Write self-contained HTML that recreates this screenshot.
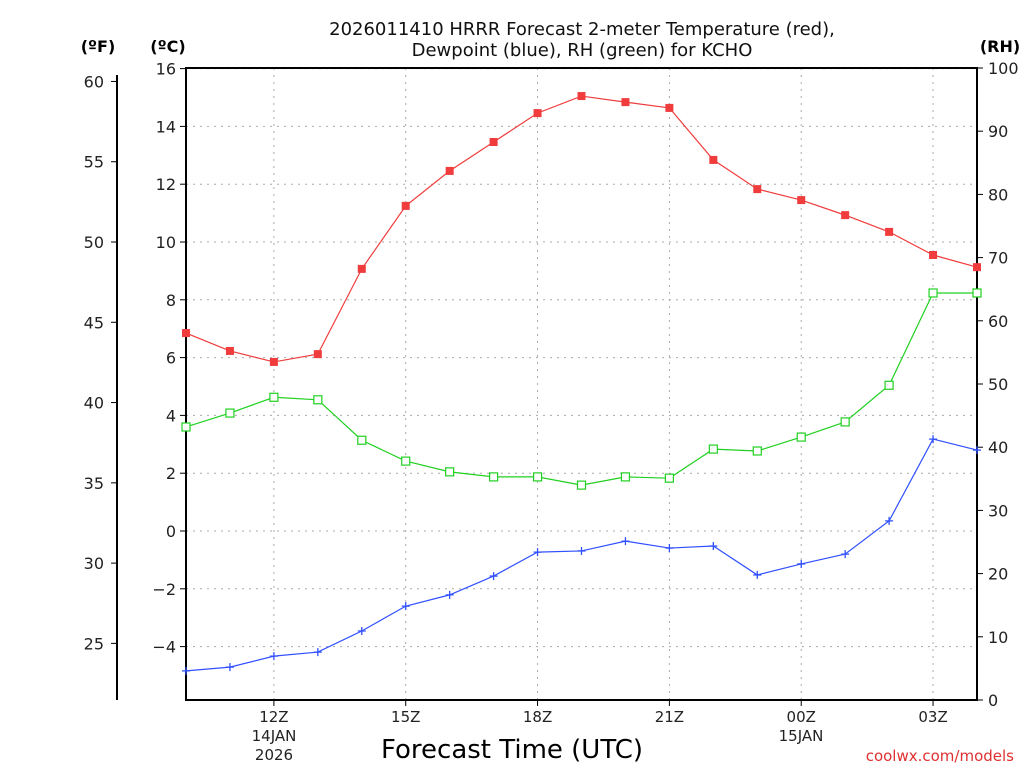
<!DOCTYPE html>
<html><head><meta charset="utf-8"><style>
body{margin:0;background:#fff;}
svg text{font-family:"DejaVu Sans","Liberation Sans",sans-serif;}
</style></head><body>
<svg id="chart" width="1024" height="768" xmlns="http://www.w3.org/2000/svg"></svg>
<script>
const hours = [10,11,12,13,14,15,16,17,18,19,20,21,22,23,24,25,26,27,28];
const tempC = [6.85,6.23,5.85,6.12,9.07,11.25,12.46,13.46,14.46,15.05,14.84,14.64,12.84,11.83,11.45,10.93,10.35,9.55,9.13];
const dewC = [-4.84,-4.71,-4.33,-4.19,-3.46,-2.60,-2.21,-1.56,-0.73,-0.69,-0.35,-0.59,-0.52,-1.52,-1.14,-0.80,0.35,3.18,2.80];
const rh = [43.2,45.4,47.9,47.5,41.1,37.8,36.1,35.3,35.3,34.0,35.3,35.1,39.7,39.4,41.6,44.0,49.8,64.4,64.4];
const cTicks = [16,14,12,10,8,6,4,2,0,-2,-4];
const fTicks = [60,55,50,45,40,35,30,25];
const rhTicks = [0,10,20,30,40,50,60,70,80,90,100];
const xTickHours = [12,15,18,21,24,27];
const xTickLabels = ["12Z","15Z","18Z","21Z","00Z","03Z"];

const L=186,R=977,T=68,B=700;
const xS=h=>L+(h-10)*(R-L)/18;
const yC=c=>531-c*28.9;
const yF=f=>yC((f-32)/1.8);
const yRH=v=>B-v*(B-T)/100;
const svg=document.getElementById('chart');
const NS='http://www.w3.org/2000/svg';
function mk(tag,attrs,parent){const e=document.createElementNS(NS,tag);for(const k in attrs)e.setAttribute(k,attrs[k]);(parent||svg).appendChild(e);return e;}
function txt(x,y,s,attrs){const e=mk('text',Object.assign({x:x,y:y},attrs));e.textContent=s;return e;}

// grid
cTicks.forEach(c=>{const l=mk('line',{x1:L,x2:R,y1:yC(c),y2:yC(c),stroke:'#aaa','stroke-dasharray':'2,5'});

});
xTickHours.forEach(h=>{const l=mk('line',{x1:xS(h),x2:xS(h),y1:T,y2:B,stroke:'#aaa','stroke-dasharray':'2,5'});

});

// frame
const fr=mk('rect',{x:L,y:T,width:R-L,height:B-T,fill:'none',stroke:'#000','stroke-width':2});



// C axis labels
cTicks.forEach(c=>{mk('line',{x1:L-6,x2:L,y1:yC(c),y2:yC(c),stroke:'#000'});
const t=txt(L-10,yC(c)+6,c<0?'−'+(-c):String(c),{'text-anchor':'end','font-size':16,fill:'#222'});

});
// F axis
const fa=mk('line',{x1:117,x2:117,y1:75,y2:B,stroke:'#000','stroke-width':2});


fTicks.forEach(f=>{mk('line',{x1:111,x2:117,y1:yF(f),y2:yF(f),stroke:'#000'});
const t=txt(104,yF(f)+6,String(f),{'text-anchor':'end','font-size':16,fill:'#222'});

});
// RH axis
rhTicks.forEach(v=>{mk('line',{x1:R,x2:R+6,y1:yRH(v),y2:yRH(v),stroke:'#000'});
const t=txt(988,yRH(v)+6,String(v),{'font-size':16,fill:'#222'});

});
// x ticks
xTickHours.forEach((h,i)=>{mk('line',{x1:xS(h),x2:xS(h),y1:B,y2:B+6,stroke:'#000'});
const t=txt(xS(h),722,xTickLabels[i],{'text-anchor':'middle','font-size':15,fill:'#222'});

});

// series
function series(vals,yf,color,marker,name){
 const pts=vals.map((v,i)=>xS(hours[i])+','+yf(v)).join(' ');
 const pl=mk('polyline',{points:pts,fill:'none',stroke:color,'stroke-width':1.2});
 
 
 vals.forEach((v,i)=>{const x=xS(hours[i]),y=yf(v);let m;
  if(marker==='fill')m=mk('rect',{x:x-4,y:y-4,width:8,height:8,fill:color});
  else if(marker==='open')m=mk('rect',{x:x-4,y:y-4,width:8,height:8,fill:'#fff',stroke:color,'stroke-width':1.2});
  else m=mk('path',{d:`M${x-4},${y}H${x+4}M${x},${y-4}V${y+4}`,stroke:color,'stroke-width':1.3});
  
  });
}
series(tempC,yC,'#f03c3c','fill','temperature');
series(rh,yRH,'#20d020','open','rh');
series(dewC,yC,'#3050ff','plus','dewpoint');

// text
const t1=txt(582,35,'2026011410 HRRR Forecast 2-meter Temperature (red),',{'text-anchor':'middle','font-size':18,fill:'#111'});

const t2=txt(582,56,'Dewpoint (blue), RH (green) for KCHO',{'text-anchor':'middle','font-size':18,fill:'#111'});

[[98,'(ºF)'],[168,'(ºC)'],[1000,'(RH)']].forEach(a=>{const t=txt(a[0],52,a[1],{'text-anchor':'middle','font-size':16,'font-weight':'bold',fill:'#000'});
});
[[274,741,'14JAN'],[274,760,'2026'],[801,741,'15JAN']].forEach(a=>{const t=txt(a[0],a[1],a[2],{'text-anchor':'middle','font-size':15,fill:'#222'});
});
const xt=txt(512,758,'Forecast Time (UTC)',{'text-anchor':'middle','font-size':26,fill:'#000'});

const cr=txt(1014,761,'coolwx.com/models',{'text-anchor':'end','font-size':15,fill:'#e03030'});

</script>
</body></html>
